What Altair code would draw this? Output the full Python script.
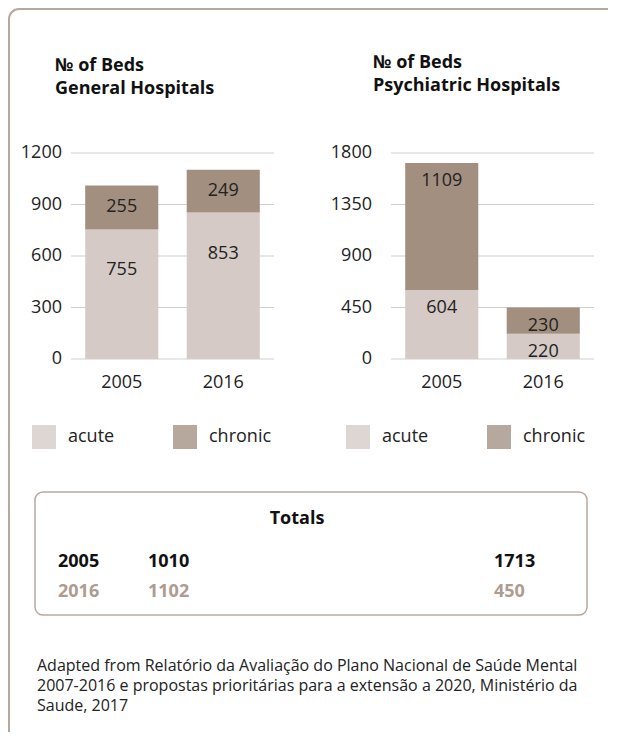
import altair as alt
import pandas as pd

# ---------------- data ----------------
years = ["2005", "2016"]
types = ["acute", "chronic"]
general_acute = [755, 853]
general_chronic = [255, 249]
psych_acute = [604, 220]
psych_chronic = [1109, 230]
general_ticks = [0, 300, 600, 900, 1200]
psych_ticks = [0, 450, 900, 1350, 1800]
general_title = ["№ of Beds", "General Hospitals"]
psych_title = ["№ of Beds", "Psychiatric Hospitals"]
totals_title = "Totals"
footer_lines = [
    "Adapted from Relatório da Avaliação do Plano Nacional de Saúde Mental",
    "2007-2016 e propostas prioritárias para a extensão a 2020, Ministério da",
    "Saude, 2017",
]

# ---------------- style ----------------
FONT = "Open Sans"
TXT = "#222222"
BAR_COLORS = ["#d5cac5", "#a28f80"]
FRAME = "#b8a89c"
GRID = "#cfcfcf"
ONE = pd.DataFrame({"k": [0]})


def panel(acute, chronic, ticks, x_range, label_right, dy_acute, dy_chronic, legend_x):
    df = pd.DataFrame({
        "year": years * 2,
        "type": ["acute"] * len(years) + ["chronic"] * len(years),
        "value": acute + chronic,
        "order": [0] * len(years) + [1] * len(years),
    })
    base = alt.Chart(df).transform_stack(
        stack="value", groupby=["year"], sort=[alt.SortField("order")], as_=["v0", "v1"]
    )
    xs = alt.Scale(domain=years, range=x_range, paddingInner=0.28, paddingOuter=0.14)
    ys = alt.Scale(domain=[0, ticks[-1]], range=[351, 145])
    X = alt.X("year:N", scale=xs, axis=None)
    tick_df = pd.DataFrame({"tick": ticks})
    grid = alt.Chart(tick_df).mark_rule(color=GRID, strokeWidth=1).encode(
        y=alt.Y("tick:Q", scale=ys, axis=None),
        x=alt.value(x_range[0]), x2=alt.value(x_range[1]),
    )
    tick_labels = alt.Chart(tick_df).mark_text(
        align="right", baseline="middle", fontSize=18, color=TXT
    ).encode(
        y=alt.Y("tick:Q", scale=ys, axis=None),
        x=alt.value(label_right),
        text=alt.Text("tick:Q", format="d"),
    )
    bars = base.mark_bar().encode(
        x=X,
        y=alt.Y("v0:Q", scale=ys, axis=None),
        y2="v1:Q",
        color=alt.Color(
            "type:N",
            scale=alt.Scale(domain=types, range=BAR_COLORS),
            legend=alt.Legend(
                orient="none", legendX=legend_x, legendY=417, direction="horizontal",
                title=None, symbolType="square", symbolSize=576, symbolOpacity=0.78,
                symbolStrokeWidth=0, labelFontSize=18, labelColor=TXT, labelFont=FONT,
                labelOffset=12, columnPadding=58, padding=0,
            ),
        ),
    )
    lab_a = base.transform_filter(alt.datum.type == "acute").mark_text(
        baseline="middle", fontSize=18, color=TXT, dy=dy_acute
    ).encode(x=X, y=alt.Y("v1:Q", scale=ys, axis=None), text=alt.Text("value:Q", format="d"))
    lab_c = base.transform_filter(alt.datum.type == "chronic").mark_text(
        baseline="middle", fontSize=18, color=TXT, dy=dy_chronic
    ).encode(x=X, y=alt.Y("v1:Q", scale=ys, axis=None), text=alt.Text("value:Q", format="d"))
    xlab = alt.Chart(pd.DataFrame({"year": years})).mark_text(
        baseline="middle", fontSize=18, color=TXT
    ).encode(x=X, y=alt.value(375), text="year:N")
    return alt.layer(grid, tick_labels, bars, lab_a, lab_c, xlab)


def title(lines, x, y_first, step):
    tdf = pd.DataFrame({"line": list(range(len(lines))), "label": lines})
    return alt.Chart(tdf).mark_text(
        align="left", baseline="alphabetic", fontSize=18, fontWeight="bold",
        color="#111111"
    ).encode(
        x=alt.value(x),
        y=alt.Y("line:O", scale=alt.Scale(domain=list(range(len(lines))),
                                          range=[y_first, y_first + step], padding=0),
                axis=None),
        text="label:N",
    )


left = panel(general_acute, general_chronic, general_ticks, [63, 266], 54, 41, 21, 24)
right = panel(psych_acute, psych_chronic, psych_ticks, [383, 586], 364, 18, 18, 338)

frame = alt.Chart(ONE).mark_rect(
    fillOpacity=0, stroke=FRAME, strokeWidth=2, cornerRadius=10
).encode(x=alt.value(1), x2=alt.value(700), y=alt.value(1), y2=alt.value(900))

title_l = title(general_title, 47, 63, 23)
title_r = title(psych_title, 365, 59.5, 23)

box = alt.Chart(ONE).mark_rect(
    fillOpacity=0, stroke=FRAME, strokeWidth=1.5, cornerRadius=8
).encode(x=alt.value(27), x2=alt.value(579), y=alt.value(484), y2=alt.value(607))
box_title = alt.Chart(ONE).mark_text(
    text=totals_title, align="center", baseline="middle", fontSize=18,
    fontWeight="bold", color="#111111"
).encode(x=alt.value(289), y=alt.value(511))

tot_df = pd.DataFrame({
    "year": years,
    "general": [a + c for a, c in zip(general_acute, general_chronic)],
    "psych": [a + c for a, c in zip(psych_acute, psych_chronic)],
})
tY = alt.Y("year:N", scale=alt.Scale(domain=years, range=[554, 584], padding=0), axis=None)
tC = alt.Color("year:N", scale=alt.Scale(domain=years, range=["#111111", "#ae9c90"]), legend=None)
tot_base = alt.Chart(tot_df).mark_text(
    align="left", baseline="middle", fontSize=18, fontWeight="bold"
)
tot = alt.layer(
    tot_base.encode(y=tY, color=tC, x=alt.value(50), text="year:N"),
    tot_base.encode(y=tY, color=tC, x=alt.value(140), text=alt.Text("general:Q", format="d")),
    tot_base.encode(y=tY, color=tC, x=alt.value(486), text=alt.Text("psych:Q", format="d")),
)

footer = alt.Chart(ONE).mark_text(
    text=footer_lines, align="left", baseline="alphabetic", fontSize=16,
    lineHeight=20, color=TXT
).encode(x=alt.value(29), y=alt.value(663))

chart = alt.layer(
    frame, title_l, title_r, left, right, box, box_title, tot, footer
).resolve_scale(
    x="independent", y="independent", color="independent"
).properties(
    width=600, height=724, padding=0,
    autosize=alt.AutoSizeParams(type="none"),
).configure(font=FONT).configure_view(stroke=None)

chart.save("out.html", embed_options={"renderer": "svg", "actions": False})
